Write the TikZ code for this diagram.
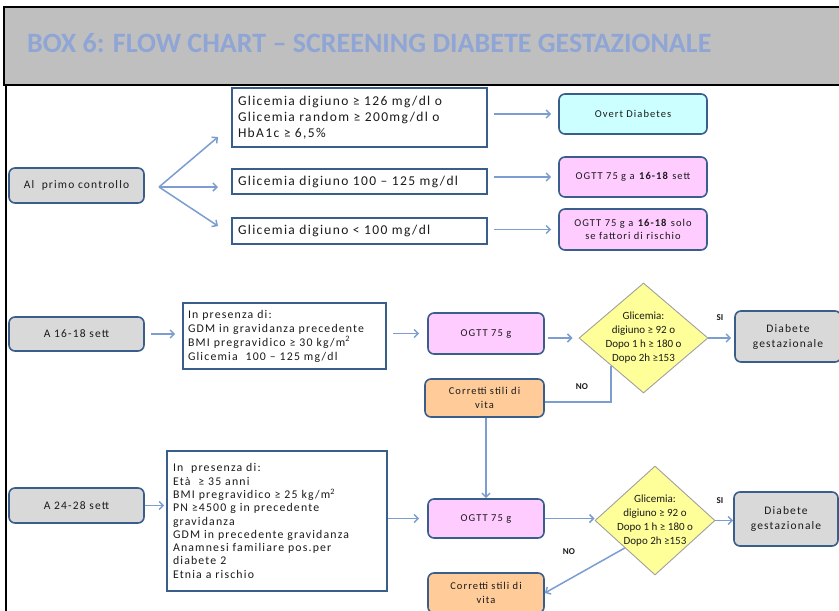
\documentclass[tikz,border=0pt]{standalone}
\usepackage{fontspec}
\setmainfont{Carlito}
\newfontfamily\wf[LetterSpace=10]{Carlito}
\usetikzlibrary{arrows.meta,shapes.geometric,calc}
\definecolor{titlec}{HTML}{8FA5D5}
\definecolor{bordc}{HTML}{3A5E8C}
\definecolor{arrc}{HTML}{7B9DD0}
\definecolor{grayf}{HTML}{D9D9D9}
\definecolor{cyanf}{HTML}{CCFFFF}
\definecolor{pinkf}{HTML}{FFCCFF}
\definecolor{orangef}{HTML}{FFCC99}
\definecolor{yellowf}{HTML}{FFFF99}
\definecolor{txt}{HTML}{1A1A1A}
\begin{document}
\begin{tikzpicture}[x=1pt,y=-1pt,
  sqbox/.style={draw=bordc,line width=1.6pt,fill=white,text=txt,inner sep=0pt},
  rbox/.style={draw=bordc,line width=1.6pt,rounded corners=6pt,text=txt,inner sep=0pt,align=center},
  dia/.style={diamond,draw=gray!75,line width=0.9pt,fill=yellowf,inner sep=0pt},
  arr/.style={draw=arrc,line width=1.5pt,-{Straight Barb[length=4pt,width=8pt]}},
  ln/.style={draw=arrc,line width=1.5pt},
  lab/.style={font=\fontsize{9}{10}\selectfont\bfseries,text=txt,inner sep=0pt}
]
\useasboundingbox (0,0) rectangle (839,611);
% title bar
\fill[white] (0,0) rectangle (839,611);
\draw[line width=2pt,fill=gray!50] (4,7) rectangle (850,85);
\node[anchor=west,text=titlec,font=\fontsize{28}{30}\selectfont\bfseries,inner sep=0pt] (title) at (27,43) {BOX 6: FLOW CHART – SCREENING DIABETE GESTAZIONALE};
\draw[line width=2pt] (6,85) -- (6,620);

% Row 1
\node[rbox,fill=grayf,minimum width=135,minimum height=35,font=\wf\fontsize{11.5}{13}\selectfont] (a1) at (76.5,185.5) {Al\ \ primo controllo};
\node[sqbox,minimum width=255,minimum height=59,text width=243,align=left,font=\wf\fontsize{13.5}{16}\selectfont] (A1) at (359.5,117.5) {Glicemia digiuno ≥ 126 mg/dl o\\Glicemia random ≥ 200mg/dl o\\HbA1c ≥ 6,5\%};
\node[sqbox,minimum width=255,minimum height=25,text width=243,align=left,font=\wf\fontsize{13.5}{16}\selectfont] (A2) at (359.5,181.5) {Glicemia digiuno 100 – 125 mg/dl};
\node[sqbox,minimum width=255,minimum height=26,text width=243,align=left,font=\wf\fontsize{13.5}{16}\selectfont] (A3) at (359.5,231) {Glicemia digiuno < 100 mg/dl};
\node[rbox,fill=cyanf,minimum width=148,minimum height=40,font=\wf\fontsize{10.5}{12}\selectfont] (ov) at (633,114) {Overt Diabetes};
\node[rbox,fill=pinkf,minimum width=148,minimum height=40,font=\wf\fontsize{10.5}{12}\selectfont] (o1) at (633,177) {OGTT 75 g a \textbf{16-18} sett};
\node[rbox,fill=pinkf,minimum width=148,minimum height=41,font=\wf\fontsize{10.5}{13}\selectfont] (o2) at (633,229.5) {OGTT 75 g a \textbf{16-18} solo\\se fattori di rischio};
\coordinate (f) at (159,187);
\coordinate (t1) at (218,137);
\coordinate (t2) at (218,187);
\coordinate (t3) at (218,226);
\draw[arr] (f) -- (t1);
\draw[arr] (f) -- (t2);
\draw[arr] (f) -- (t3);
\draw[arr,shorten <=6pt,shorten >=7pt] (A1.east |- ov.west) -- (ov.west);
\draw[arr,shorten <=6pt,shorten >=7pt] (A2.east |- o1.west) -- (o1.west);
\draw[arr,shorten <=6pt,shorten >=7pt] (A3.east |- o2.west) -- (o2.west);

% Row 2
\node[rbox,fill=grayf,minimum width=135,minimum height=34,font=\wf\fontsize{11.5}{13}\selectfont] (a2) at (76.5,334) {A 16-18 sett};
\node[sqbox,minimum width=203,minimum height=66,text width=193,align=left,font=\wf\fontsize{11.8}{14}\selectfont] (B) at (284.5,336) {In presenza di:\\GDM in gravidanza precedente\\BMI pregravidico ≥ 30 kg/m\textsuperscript{2}\\Glicemia\ \ 100 – 125 mg/dl};
\node[rbox,fill=pinkf,minimum width=116,minimum height=41,font=\wf\fontsize{10.5}{12}\selectfont] (g1) at (486,333.5) {OGTT 75 g};
\node[dia,minimum width=129,minimum height=110] (d1) at (643.5,338) {};
\node[font=\fontsize{11}{14}\selectfont,text=txt,align=center,inner sep=0pt] (d1t) at (d1) {Glicemia:\\digiuno ≥ 92 o\\Dopo 1 h ≥ 180 o\\Dopo 2h ≥153};
\node[rbox,fill=grayf,minimum width=106,minimum height=51,font=\wf\fontsize{11.5}{15}\selectfont] (dg1) at (788,336.5) {Diabete\\gestazionale};
\node[rbox,fill=orangef,minimum width=119,minimum height=38,font=\wf\fontsize{10.5}{14}\selectfont] (c1) at (484.5,398) {Corretti stili di\\vita};
\draw[arr,shorten <=6pt,shorten >=7pt] (a2.east) -- (a2.east -| B.west);
\draw[arr,shorten <=6pt,shorten >=8pt] (B.east |- g1.west) -- (g1.west);
\draw[arr,shorten <=3pt,shorten >=6pt] (g1.east |- d1.west) -- (d1.west);
\draw[arr,shorten >=3pt] (d1.east) -- (d1.east -| dg1.west);
\node[lab] (si1) at (720,318) {SI};
\draw[ln] (d1.south west) |- ([yshift=-4pt]c1.east);
\node[lab] (no1) at (582,387) {NO};

% Row 3
\node[rbox,fill=grayf,minimum width=135,minimum height=35,font=\wf\fontsize{11.5}{13}\selectfont] (a3) at (76.5,505.5) {A 24-28 sett};
\node[sqbox,minimum width=220,minimum height=140,text width=208,align=left,font=\wf\fontsize{11.8}{13.3}\selectfont] (C) at (277,521) {In\ \ presenza di:\\Età\ \ ≥ 35 anni\\BMI pregravidico ≥ 25 kg/m\textsuperscript{2}\\PN ≥4500 g in precedente\\gravidanza\\GDM in precedente gravidanza\\Anamnesi familiare pos.per\\diabete 2\\Etnia a rischio};
\node[rbox,fill=pinkf,minimum width=116,minimum height=39,font=\wf\fontsize{10.5}{12}\selectfont] (g2) at (486,518.5) {OGTT 75 g};
\node[dia,minimum width=120,minimum height=109] (d2) at (655,520.5) {};
\node[font=\fontsize{11}{14}\selectfont,text=txt,align=center,inner sep=0pt] (d2t) at (d2) {Glicemia:\\digiuno ≥ 92 o\\Dopo 1 h ≥ 180 o\\Dopo 2h ≥153};
\node[rbox,fill=grayf,minimum width=104,minimum height=54,font=\wf\fontsize{11.5}{15}\selectfont] (dg2) at (786,519) {Diabete\\gestazionale};
\node[rbox,fill=orangef,minimum width=116,minimum height=40,font=\wf\fontsize{10.5}{14}\selectfont] (c2) at (486,593) {Corretti stili di\\vita};
\draw[arr,shorten >=2pt] (a3.east) -- (a3.east -| C.west);
\draw[arr,shorten >=8pt] (C.east |- g2.west) -- (g2.west);
\draw[arr] (g2.east) -- (g2.east -| d2.west);
\draw[arr] (d2.east) -- (d2.east -| dg2.west);
\node[lab] (si2) at (720,501) {SI};
\draw[arr] (d2.south west) -- (c2.east);
\node[lab] (no2) at (569,552) {NO};
\draw[arr] (c1.south -| g2.north) -- (g2.north);
\end{tikzpicture}
\end{document}
